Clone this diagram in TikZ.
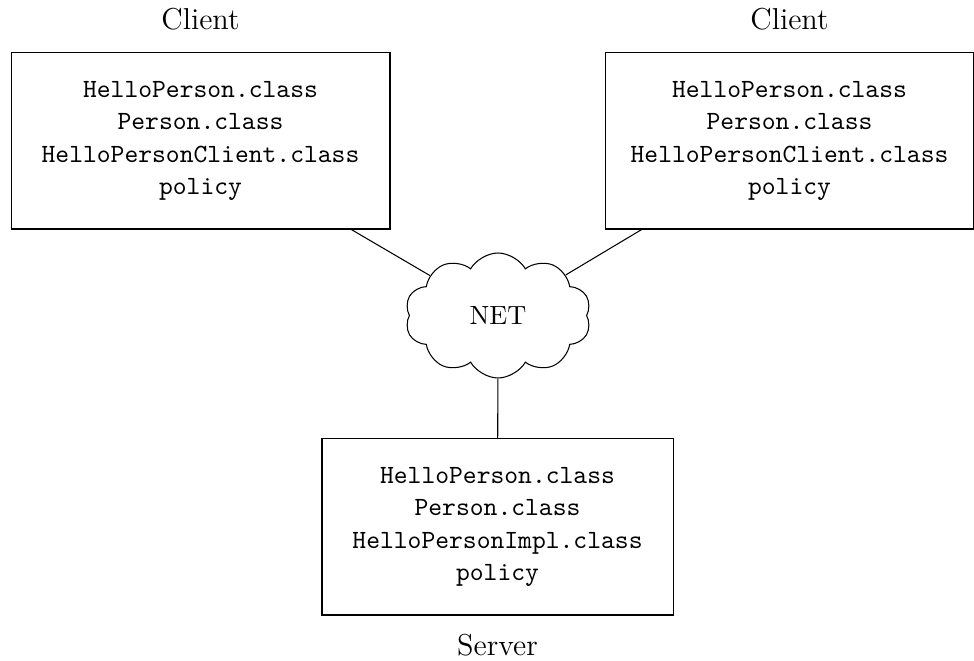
\documentclass[tikz,border=0pt]{standalone}
\usetikzlibrary{shapes.symbols}
\begin{document}
\begin{tikzpicture}[x=0.38pt,y=-0.38pt,
  filebox/.style={draw, line width=0.4pt, inner sep=0pt, align=center,
    minimum height=66.9pt, font=\fontsize{10}{12.2}\selectfont\ttfamily},
  rolelabel/.style={inner sep=0pt, font=\fontsize{11.5}{13}\selectfont},
  netcloud/.style={draw, cloud, cloud puffs=10, cloud puff arc=120, aspect=1.5,
    inner sep=0pt, minimum width=70.7pt, minimum height=47.5pt,
    font=\fontsize{10}{12}\selectfont},
  link/.style={draw, line width=0.4pt}]
\useasboundingbox (0,0) rectangle (974,661);

% client machines
\node[filebox, minimum width=144pt] (c1) at (200.5,141)
  {HelloPerson.class\\Person.class\\HelloPersonClient.class\\policy};
\node[filebox, minimum width=139.5pt] (c2) at (789.5,141)
  {HelloPerson.class\\Person.class\\HelloPersonClient.class\\policy};

% server machine
\node[filebox, minimum width=133.4pt] (s) at (497.5,527)
  {HelloPerson.class\\Person.class\\HelloPersonImpl.class\\policy};

% network
\node[netcloud] (net) at (498,315.5) {NET};

% captions
\node[rolelabel, anchor=base] (l1) at (200.5,30) {Client};
\node[rolelabel, anchor=base] (l2) at (789.5,30) {Client};
\node[rolelabel, anchor=base] (l3) at (497.5,656) {Server};

% connections
\path[link] (c1) -- (net);
\path[link] (c2) -- (net);
\path[link] (net) -- (s);
\end{tikzpicture}
\end{document}
